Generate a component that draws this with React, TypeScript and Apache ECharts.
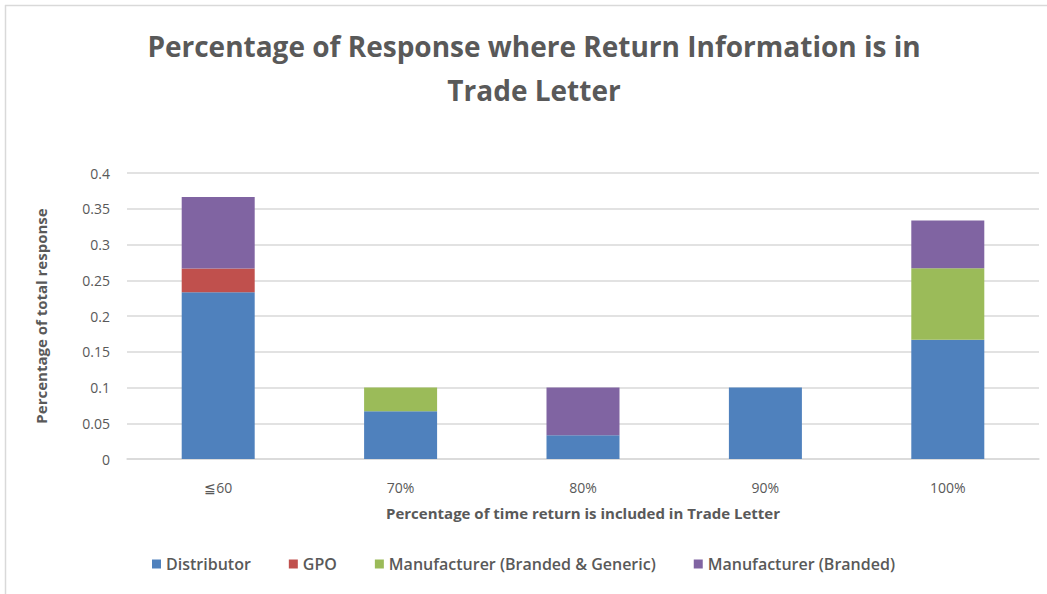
import React, { useEffect, useRef } from "react";
import * as echarts from "echarts";

const categories = ["≦60", "70%", "80%", "90%", "100%"];
const distributor = [0.2333, 0.0667, 0.0333, 0.1, 0.1667];
const gpo = [0.0333, 0, 0, 0, 0];
const mfgBrandedGeneric = [0, 0.0333, 0, 0, 0.1];
const mfgBranded = [0.1, 0, 0.0667, 0, 0.0667];
const yTicks = [0, 0.05, 0.1, 0.15, 0.2, 0.25, 0.3, 0.35, 0.4];

const seriesNames = ["Distributor", "GPO", "Manufacturer (Branded & Generic)", "Manufacturer (Branded)"];
const seriesColors = ["#4F81BD", "#C0504D", "#9BBB59", "#8064A2"];
const seriesData = [distributor, gpo, mfgBrandedGeneric, mfgBranded];

const FONT = "'Open Sans', sans-serif";

export default function App() {
  const ref = useRef<HTMLDivElement>(null);
  useEffect(() => {
    if (!ref.current) return;
    const chart = echarts.init(ref.current, null, { renderer: "svg" });
    chart.setOption({
      animation: false,
      backgroundColor: "#ffffff",
      title: {
        text: "Percentage of Response where Return Information is in\nTrade Letter",
        left: 529,
        textAlign: "center",
        top: 19,
        textStyle: { fontFamily: FONT, fontWeight: "bold", fontSize: 28, color: "#595959", lineHeight: 44 },
      },
      graphic: [
        { type: "line", shape: { x1: 5.5, y1: 5, x2: 5.5, y2: 594 }, style: { stroke: "#d9d9d9", lineWidth: 1.5 }, silent: true },
        { type: "line", shape: { x1: 5, y1: 5.5, x2: 1047, y2: 5.5 }, style: { stroke: "#d9d9d9", lineWidth: 1.5 }, silent: true },
      ],
      legend: {
        bottom: 17,
        left: "center",
        itemWidth: 9,
        itemHeight: 9,
        itemGap: 38,
        icon: "rect",
        textStyle: { fontFamily: FONT, fontSize: 16, fontWeight: 600, color: "#595959" },
        data: seriesNames,
      },
      grid: { left: 127, right: 8, top: 173, bottom: 135, containLabel: false },
      xAxis: {
        type: "category",
        data: categories,
        name: "Percentage of time return is included in Trade Letter",
        nameLocation: "middle",
        nameGap: 46,
        nameTextStyle: { fontFamily: FONT, fontWeight: "bold", fontSize: 15, color: "#595959" },
        axisLine: { lineStyle: { color: "#d9d9d9", width: 1.5 } },
        axisTick: { show: false },
        axisLabel: { fontFamily: FONT, fontSize: 14, color: "#595959", margin: 21 },
      },
      yAxis: {
        type: "value",
        min: 0,
        max: 0.4,
        interval: 0.05,
        name: "Percentage of total response",
        nameLocation: "middle",
        nameGap: 79,
        nameTextStyle: { fontFamily: FONT, fontWeight: "bold", fontSize: 15, color: "#595959" },
        axisLine: { show: false },
        axisTick: { show: false },
        splitLine: { lineStyle: { color: "#d9d9d9", width: 1.5 } },
        axisLabel: {
          fontFamily: FONT,
          fontSize: 14,
          color: "#595959",
          margin: 17,
          formatter: (v: number) => {
            const t = yTicks.find((x) => Math.abs(x - v) < 1e-9);
            return String(parseFloat((t ?? v).toFixed(2)));
          },
        },
      },
      series: seriesNames.map((name, i) => ({
        name,
        type: "bar",
        stack: "total",
        data: seriesData[i],
        barWidth: 73,
        itemStyle: { color: seriesColors[i] },
      })),
    });
    return () => chart.dispose();
  }, []);
  return <div ref={ref} style={{ position: "absolute", left: 0, top: 0, width: 1047, height: 594 }} />;
}
